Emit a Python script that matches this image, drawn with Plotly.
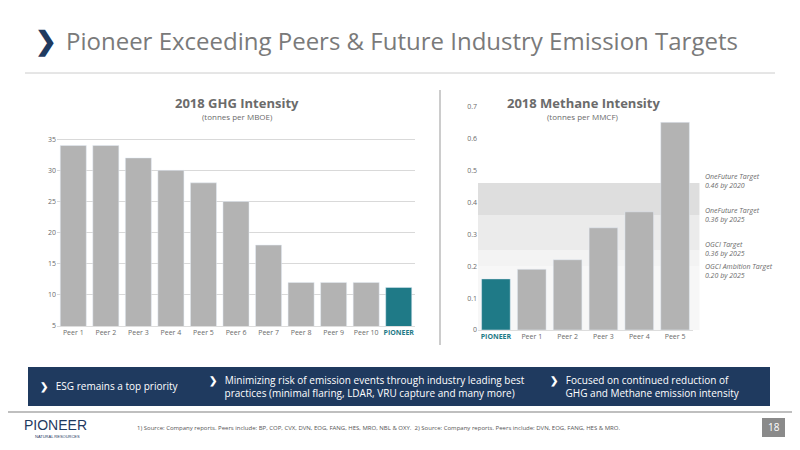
import plotly.graph_objects as go

ghg_cats = ["Peer 1", "Peer 2", "Peer 3", "Peer 4", "Peer 5", "Peer 6", "Peer 7", "Peer 8", "Peer 9", "Peer 10", "PIONEER"]
ghg_vals = [34, 34, 32, 30, 28, 25, 18, 12, 12, 12, 11.2]
ch4_cats = ["PIONEER", "Peer 1", "Peer 2", "Peer 3", "Peer 4", "Peer 5"]
ch4_vals = [0.16, 0.19, 0.22, 0.32, 0.37, 0.65]
bands = [(0.0, 0.20, "#f7f7f7"), (0.20, 0.25, "#f3f3f3"), (0.25, 0.36, "#ebebeb"), (0.36, 0.46, "#dedede")]
band_label_y = [0.465, 0.36, 0.255, 0.185]
band_labels = ["OneFuture Target<br>0.46 by 2020", "OneFuture Target<br>0.36 by 2025",
               "OGCI Target<br>0.36 by 2025", "OGCI Ambition Target<br>0.20 by 2025"]

GRAY = "#b3b3b3"
TEAL = "#1f7a87"
NAVY = "#1f3a5f"
TXT = "#6b6b6b"
F = "Open Sans"

# the page has an 8px body margin, so convert reference pixels to paper coords with that offset
def X(px):
    return (px - 8) / 800

def Y(py):
    return 1 - (py - 8) / 450

fig = go.Figure()
fig.add_trace(go.Bar(x=ghg_cats, y=ghg_vals, xaxis="x", yaxis="y",
                     marker_color=[TEAL if c == "PIONEER" else GRAY for c in ghg_cats]))
fig.add_trace(go.Bar(x=ch4_cats, y=ch4_vals, xaxis="x2", yaxis="y2",
                     marker_color=[TEAL if c == "PIONEER" else GRAY for c in ch4_cats]))

shapes = []
for lo, hi, col in bands:
    shapes.append(dict(type="rect", xref="x2 domain", yref="y2", x0=0, x1=1.03, y0=lo, y1=hi,
                       fillcolor=col, line_width=0, layer="below"))
shapes += [
    dict(type="line", xref="paper", yref="paper", x0=X(25), x1=X(775), y0=Y(73), y1=Y(73), line=dict(color="#cccccc", width=1)),
    dict(type="line", xref="paper", yref="paper", x0=X(440), x1=X(440), y0=Y(345), y1=Y(90), line=dict(color="#cccccc", width=2)),
    dict(type="rect", xref="paper", yref="paper", x0=X(28), x1=X(770), y0=Y(406), y1=Y(367), fillcolor=NAVY, line_width=0),
    dict(type="line", xref="paper", yref="paper", x0=X(8), x1=X(800), y0=Y(412), y1=Y(412), line=dict(color="#aaaaaa", width=1.5)),
    dict(type="rect", xref="paper", yref="paper", x0=X(762), x1=X(785), y0=Y(437), y1=Y(418), fillcolor="#8a8a8a", line_width=0),
]
fig.update_layout(shapes=shapes)

ann = [
    dict(x=X(46), y=Y(40), text="<b>❯</b>", font=dict(size=26, color=NAVY)),
    dict(x=X(64), y=Y(40), text="Pioneer Exceeding Peers & Future Industry Emission Targets", xanchor="left",
         font=dict(size=24, color="#7a7a7a")),
    dict(x=X(237), y=Y(103), text="<b>2018 GHG Intensity</b>", font=dict(size=13, color=TXT)),
    dict(x=X(237), y=Y(116), text="(tonnes per MBOE)", font=dict(size=8, color=TXT)),
    dict(x=X(583), y=Y(103), text="<b>2018 Methane Intensity</b>", font=dict(size=13, color=TXT)),
    dict(x=X(583), y=Y(116), text="(tonnes per MMCF)", font=dict(size=8, color=TXT)),
    dict(x=X(38), y=Y(386), text="<b>❯</b>   ESG remains a top priority", xanchor="left", font=dict(size=10, color="white")),
    dict(x=X(207), y=Y(386), text="<b>❯</b>   Minimizing risk of emission events through industry leading best<br>      practices (minimal flaring, LDAR, VRU capture and many more)",
         xanchor="left", align="left", font=dict(size=10, color="white")),
    dict(x=X(548), y=Y(386), text="<b>❯</b>   Focused on continued reduction of<br>      GHG and Methane emission intensity",
         xanchor="left", align="left", font=dict(size=10, color="white")),
    dict(x=X(22), y=Y(425), text="PIONEER", xanchor="left", font=dict(size=14, color=NAVY, family="Liberation Sans")),
    dict(x=X(33), y=Y(436), text="NATURAL RESOURCES", xanchor="left", font=dict(size=4, color=NAVY, family="Liberation Sans")),
    dict(x=X(135), y=Y(428), text="1) Source: Company reports. Peers include: BP, COP, CVX, DVN, EOG, FANG, HES, MRO, NBL & OXY.  2) Source: Company reports. Peers include: DVN, EOG, FANG, HES & MRO.",
         xanchor="left", font=dict(size=6, color="#555555")),
    dict(x=X(773.5), y=Y(427), text="18", font=dict(size=10, color="white")),
]
for a in ann:
    a.setdefault("xref", "paper"); a.setdefault("yref", "paper"); a["showarrow"] = False
    a.setdefault("xanchor", "center")
    a["yanchor"] = "middle"
    a["font"].setdefault("family", F)
for val, txt in zip(band_label_y, band_labels):
    ann.append(dict(xref="paper", yref="y2", x=X(703), y=val, text="<i>" + txt + "</i>", xanchor="left", yanchor="middle",
                    align="left", showarrow=False, font=dict(size=7, color=TXT, family=F)))
fig.update_layout(annotations=ann)

tf = dict(size=7, color=TXT, family=F)
ax = dict(showgrid=False, showline=True, linecolor="#dddddd", tickfont=tf, ticks="", tickangle=0, automargin=False)
fig.update_layout(
    width=800, height=450, margin=dict(l=0, r=0, t=0, b=0),
    plot_bgcolor="white", paper_bgcolor="white", showlegend=False, bargap=0.2,
    xaxis=dict(ax, domain=[X(57), X(415)], anchor="y",
               tickvals=ghg_cats,
               ticktext=[f"<b><span style='color:{TEAL}'>{c}</span></b>" if c == "PIONEER" else c for c in ghg_cats]),
    yaxis=dict(domain=[Y(326), Y(138)], range=[5, 35.2], dtick=5, showgrid=True, gridcolor="#d9d9d9",
               tickfont=tf, zeroline=False, automargin=False),
    xaxis2=dict(ax, domain=[X(478), X(693)], anchor="y2",
                tickvals=ch4_cats,
                ticktext=[f"<b><span style='color:{TEAL}'>{c}</span></b>" if c == "PIONEER" else c for c in ch4_cats]),
    yaxis2=dict(domain=[Y(330), Y(100)], range=[0, 0.72], tickvals=[0, 0.1, 0.2, 0.3, 0.4, 0.5, 0.6, 0.7],
                showgrid=False, zeroline=False, tickfont=tf, anchor="x2", automargin=False),
)
fig.write_html("out.html")
